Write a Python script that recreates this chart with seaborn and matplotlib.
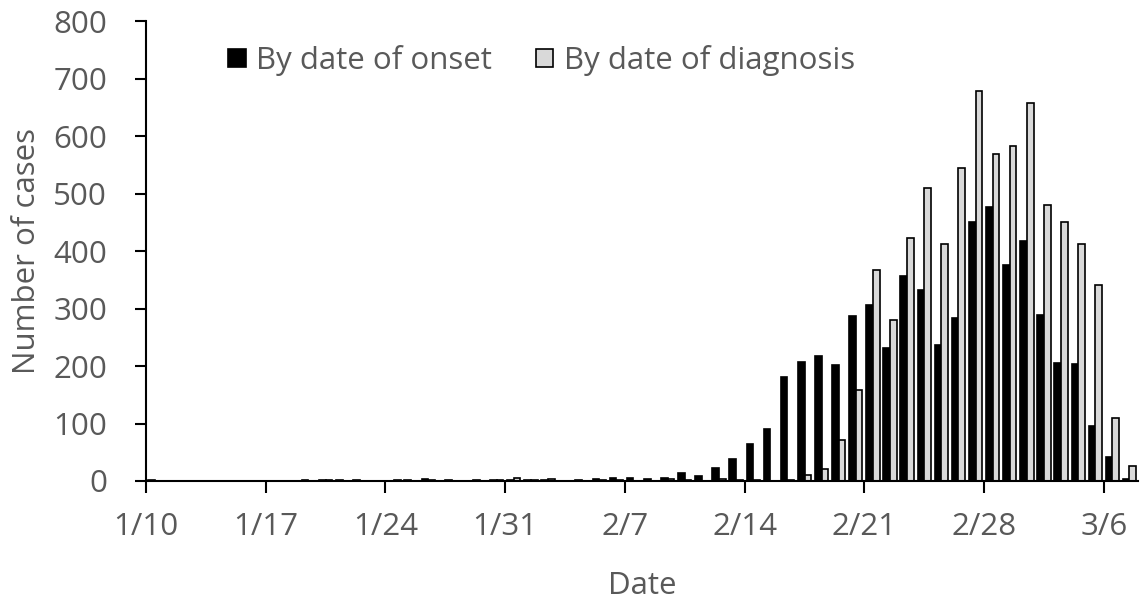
import pandas as pd
import matplotlib
matplotlib.use("Agg")
import matplotlib.pyplot as plt
from matplotlib.patches import Patch
import seaborn as sns

# daily cases, 1/10 .. 3/7 (2020)
dates = pd.date_range("2020-01-10", "2020-03-07", freq="D")
date_labels = [f"{d.month}/{d.day}" for d in dates]

onset = [1, 0, 0, 0, 0, 0, 0, 0, 0, 1,      # 1/10 - 1/19
         1, 1, 1, 0, 0, 1, 3, 0, 0, 1,      # 1/20 - 1/29
         2, 1, 2, 1, 0, 2, 4, 5, 6, 4,      # 1/30 - 2/8
         6, 14, 9, 22, 39, 64, 90, 181, 207, 217,   # 2/9 - 2/18
         202, 287, 307, 232, 357, 333, 236, 284, 451, 476,  # 2/19 - 2/28
         376, 417, 289, 206, 203, 95, 42, 4]          # 2/29 - 3/7

diagnosis = [0, 0, 0, 0, 0, 0, 0, 0, 0, 0,
             1, 0, 0, 0, 1, 0, 1, 1, 0, 0,
             2, 5, 2, 3, 0, 0, 2, 1, 0, 0,
             3, 1, 0, 3, 1, 1, 0, 2, 10, 20,
             72, 159, 367, 280, 423, 510, 413, 544, 678, 568,
             582, 657, 480, 450, 413, 341, 109, 26]

series_names = ["By date of onset", "By date of diagnosis"]
series_colors = ["#000000", "#D9D9D9"]
y_ticks = list(range(0, 801, 100))

df = pd.DataFrame({
    "date": date_labels * 2,
    "cases": onset + diagnosis,
    "series": [series_names[0]] * len(onset) + [series_names[1]] * len(diagnosis),
})

sns.set_style("ticks")
plt.rcParams["font.family"] = ["Open Sans", "DejaVu Sans"]
text_color = "#595959"
fs = 22.5

fig = plt.figure(figsize=(11.44, 6.02), dpi=100)
ax = fig.add_axes([0.1276, 0.201, 0.8672, 0.764])

sns.barplot(data=df, x="date", y="cases", hue="series", order=date_labels,
            hue_order=series_names, palette=series_colors, width=0.78,
            edgecolor="black", linewidth=1.2, legend=False, ax=ax)

# ticks sit on category boundaries, every 7 days
tick_idx = list(range(0, len(date_labels), 7))
ax.set_xticks([i - 0.5 for i in tick_idx])
ax.set_xticklabels([date_labels[i] for i in tick_idx])
ax.set_xlim(-0.5, len(date_labels) - 0.5)
ax.set_ylim(0, 800)
ax.set_yticks(y_ticks)

ax.tick_params(axis="x", length=8.5, width=1.5, colors="black", labelcolor=text_color,
               labelsize=fs, pad=14)
ax.tick_params(axis="y", length=8, width=1.5, colors="black", labelcolor=text_color,
               labelsize=fs, pad=20)
for s in ["top", "right"]:
    ax.spines[s].set_visible(False)
for s in ["left", "bottom"]:
    ax.spines[s].set_linewidth(1.5)
    ax.spines[s].set_color("black")

ax.set_xlabel("Date", fontsize=fs, color=text_color, labelpad=21)
ax.set_ylabel("Number of cases", fontsize=fs, color=text_color, labelpad=8)

handles = [Patch(facecolor=c, edgecolor="black", linewidth=1.2) for c in series_colors]
ax.legend(handles, series_names, ncol=2, frameon=False, loc="center left",
          bbox_to_anchor=(0.083, 0.914), fontsize=fs, handlelength=0.55,
          handleheight=0.55, handletextpad=0.35, columnspacing=1.4,
          labelcolor=text_color, borderaxespad=0, borderpad=0)

fig.savefig("out.png", dpi=100)
